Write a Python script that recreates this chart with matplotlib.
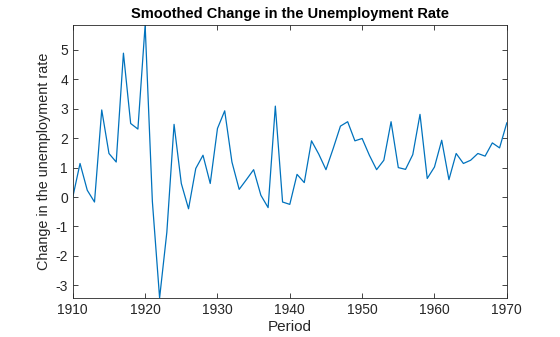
import matplotlib
matplotlib.use("Agg")
import matplotlib.pyplot as plt
import numpy as np

plt.rcParams['font.family'] = ['Liberation Sans', 'DejaVu Sans']
plt.rcParams['axes.unicode_minus'] = False

# yearly change in the unemployment rate, smoothed
years = np.arange(1910, 1971)
change = [
    0.00, 1.14, 0.23, -0.17, 2.96, 1.48, 1.19, 4.89, 2.50, 2.31,
    5.85, -0.15, -3.43, -1.20, 2.47, 0.46, -0.40, 0.97, 1.42, 0.46,
    2.33, 2.93, 1.19, 0.26, 0.59, 0.93, 0.06, -0.36, 3.09, -0.17,
    -0.25, 0.77, 0.49, 1.91, 1.46, 0.93, 1.65, 2.41, 2.56, 1.91,
    1.99, 1.42, 0.93, 1.25, 2.56, 1.00, 0.94, 1.44, 2.81, 0.63,
    1.02, 1.93, 0.59, 1.48, 1.14, 1.25, 1.48, 1.39, 1.84, 1.67,
    2.52,
]
xticks = np.arange(1910, 1971, 10)
yticks = np.arange(-3, 6)

dark = '#262626'
fig = plt.figure(figsize=(5.6, 3.37), dpi=100)
ax = fig.add_axes([0.13, 0.116, 0.775, 0.81])
ax.plot(years, change, color='#0072BD', lw=0.9)

ax.set_xlim(years[0], years[-1])
ax.set_ylim(min(change), max(change))
ax.set_xticks(xticks)
ax.set_yticks(yticks)
ax.tick_params(direction='in', top=True, right=True, length=3.5, width=0.6,
               colors=dark, labelsize=10)
for s in ax.spines.values():
    s.set_color(dark)
    s.set_linewidth(0.6)

ax.set_title('Smoothed Change in the Unemployment Rate', fontsize=10.5,
             fontweight='bold', color='black', pad=5)
ax.set_xlabel('Period', fontsize=11, color=dark, labelpad=2)
ax.set_ylabel('Change in the unemployment rate', fontsize=10.4, color=dark,
              labelpad=3)

fig.savefig('out.png', dpi=100)
